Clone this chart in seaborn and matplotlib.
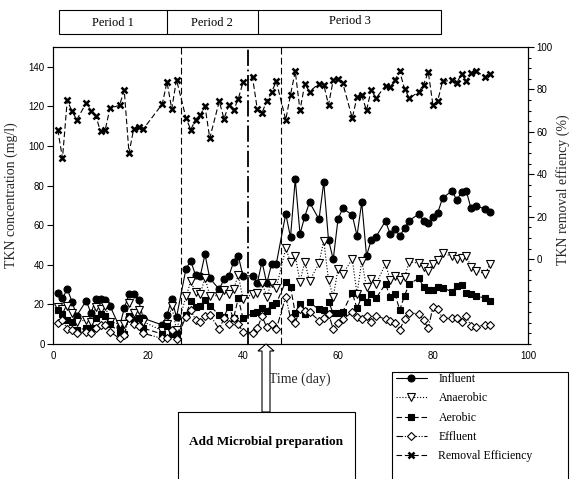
import matplotlib
matplotlib.use("Agg")
import matplotlib.pyplot as plt
import matplotlib.transforms as mtransforms
from matplotlib.patches import Rectangle, Polygon
from matplotlib.lines import Line2D
from matplotlib.ticker import MultipleLocator
import pandas as pd
import seaborn as sns

# sampling days
days = [1, 2, 3, 4, 5, 7, 8, 9, 10, 11, 12, 14, 15, 16, 17, 18, 19, 23, 24, 25, 26,
        28, 29, 30, 31, 32, 33, 35, 36, 37, 38, 39, 40, 42, 43, 44, 45, 46, 47,
        49, 50, 51, 52, 53, 54, 56, 57, 58, 59, 60, 61, 63, 64, 65, 66, 67, 68,
        70, 71, 72, 73, 74, 75, 77, 78, 79, 80, 81, 82, 84, 85, 86, 87, 88, 89, 91, 92]

influent = [25.6, 23, 27.8, 21.4, 14.3, 21.9, 15.5, 22.7, 22.7, 22.2, 19.2, 8.7, 18, 25.3, 25.1, 22.2, 13, 9.6, 14.6, 22.7, 13.5,
            38, 42, 34.8, 34.3, 45.3, 33.2, 27.6, 32.7, 34.3, 41.2, 44.6, 34.3, 34.5, 30.6, 41.6, 30.6, 40.2, 40.4,
            65.7, 53.9, 83.3, 55.6, 64.3, 71.6, 63, 81.7, 52.5, 42.8, 63, 68.5, 65.2, 54.7, 71.6, 44.6, 52.5, 54.2,
            62.1, 55.4, 58.1, 54.5, 58.4, 62.3, 65.7, 62.1, 61.3, 64, 66.3, 73.6, 77.4, 72.7, 76.6, 77.4, 68.5, 69.8, 68.2, 66.8]

anaerobic = [18.9, 17.5, 19.2, 15.5, 11.3, 12.1, 11.3, 18.9, 17.5, 19.2, 11.3, 10, 10, 20.5, 15.8, 17.2, 11.3, 6.7, 10, 19, 7,
             24, 31.6, 26.4, 25.2, 33.5, 24.4, 24.4, 27.3, 25.2, 27.6, 34.8, 22.7, 25.2, 25.9, 31, 23.9, 31, 28.4,
             48.3, 41.6, 44.4, 31.5, 41.6, 31.8, 40.8, 52.2, 32.3, 23.9, 37.9, 35.4, 42.9, 25.2, 42.1, 28.6, 32.8, 30.3,
             40.4, 32.3, 34.5, 32.3, 33.7, 41.6, 40.8, 38.7, 37, 40.4, 42.4, 45.8, 44.4, 42.9, 43.3, 44.6, 39, 37, 35.4, 40.4]

aerobic = [17, 15, 12, 11, 7, 8, 8, 13, 15, 14, 10, 6, 5, 14, 12, 13, 8, 5, 9, 5, 5,
           14.6, 21.9, 18.9, 19.4, 22.2, 19.4, 14.6, 13.8, 18.9, 13, 23, 13, 15.5, 16.3, 18, 16.8, 19.8, 20.5,
           31.5, 28.9, 15.5, 20, 15, 21, 17.5, 17.2, 21.4, 15.5, 15.8, 16.3, 25.9, 18, 23.9, 21.4, 25.1, 23.1,
           30.3, 23.9, 25.1, 17.2, 24.4, 30.3, 33.2, 29, 27.3, 27.3, 29, 28.4, 26.4, 29.3, 29.8, 25.9, 25.2, 24.4, 23.1, 21.9]

effluent = [10.4, 12, 7.5, 7, 5.7, 6.2, 5.4, 7.9, 9.6, 9.6, 6.2, 2.8, 4.5, 12.9, 10, 9.3, 5.4, 2.8, 2.8, 7, 2.5,
            13.8, 17, 12.3, 11.3, 14, 14.8, 7.5, 13, 9.9, 13, 10.1, 6.2, 5.7, 7.9, 14, 8.4, 9.9, 7.5,
            23.9, 13, 10.8, 17.5, 16.5, 16.2, 11.8, 13, 15.3, 7.5, 10.4, 12.6, 16, 13.8, 12.5, 14.3, 11.3, 14.3,
            12.5, 11.6, 10.4, 7.1, 12.6, 15.8, 15.2, 12.1, 7.9, 18.9, 17.5, 13, 13, 13, 11, 14.1, 9.1, 8.8, 9.6, 9.6]

removal = [61, 47.6, 74.9, 69.7, 65.7, 73.6, 70, 67.6, 60.2, 61, 71.2, 72.5, 79.6, 50, 61.5, 62.3, 61.3, 73.1, 83.5, 70.8, 84.6,
           66.5, 61, 65.7, 68, 72, 57, 74.4, 66.2, 72.5, 70.1, 75.5, 83.3, 85.8, 70.8, 68.9, 74.7, 78.6, 83.8,
           65.7, 77.5, 88.5, 70.1, 82.5, 79, 82.7, 82.2, 72.8, 84.3, 84.9, 83, 66.5, 76.4, 77.2, 70.1, 79.9, 75.9,
           81.7, 81, 84.6, 88.5, 80.3, 75.9, 78.8, 82.2, 88.2, 72.5, 74.7, 83.8, 84.3, 83, 87.4, 83.8, 87.7, 88.8, 85.8, 87.3]

period_names = ["Period 1", "Period 2", "Period 3"]
period_change_days = [27, 48]
dose_day = 41

df = pd.DataFrame({"day": days, "Influent": influent, "Anaerobic": anaerobic,
                   "Aerobic": aerobic, "Effluent": effluent, "Removal Efficiency": removal})

sns.set_theme(style="white")
plt.rcParams["font.family"] = ["Liberation Serif", "DejaVu Serif"]
plt.rcParams["axes.edgecolor"] = "black"
plt.rcParams["text.color"] = "black"
plt.rcParams["xtick.color"] = "black"
plt.rcParams["ytick.color"] = "black"

fig = plt.figure(figsize=(5.71, 4.79), dpi=100)
# pixel coordinates of the picture, origin at top left
px = mtransforms.Affine2D().scale(1 / 571, -1 / 479).translate(0, 1) + fig.transFigure

ax = fig.add_axes([53 / 571, 1 - 344 / 479, 475 / 571, 297 / 479])
ax2 = ax.twinx()

styles = {
    "Influent": dict(linestyle="-", marker="o", markersize=5, markerfacecolor="black"),
    "Anaerobic": dict(linestyle=":", marker="v", markersize=5.5, markerfacecolor="white"),
    "Aerobic": dict(linestyle=(0, (5, 2.5)), marker="s", markersize=4.5, markerfacecolor="black"),
    "Effluent": dict(linestyle=(0, (6, 1.5, 1, 1.5, 1, 1.5)), marker="D", markersize=4.3, markerfacecolor="white"),
}
for name, st in styles.items():
    sns.lineplot(data=df, x="day", y=name, ax=ax, color="black", linewidth=0.8,
                 markeredgecolor="black", markeredgewidth=0.8, label=name, legend=False, **st)

sns.lineplot(data=df, x="day", y="Removal Efficiency", ax=ax2, color="black", linewidth=0.8,
             linestyle=(0, (5, 2.5)), marker="x", markersize=4.5, markeredgewidth=1.8,
             markeredgecolor="black", label="Removal Efficiency", legend=False)

for d in period_change_days:
    ax.axvline(d, color="black", linewidth=0.8, linestyle=(0, (6, 3)))
ax.axvline(dose_day, color="black", linewidth=1.3, linestyle=(0, (9, 2, 1, 2)))

ax.set_xlim(0, 100)
ax.set_ylim(0, 150)
ax.set_xticks(range(0, 101, 20))
ax.set_yticks(range(0, 141, 20))
ax2.set_ylim(-40, 100)
ax2.set_yticks(range(0, 101, 20))
ax2.yaxis.set_minor_locator(MultipleLocator(5))

ax.tick_params(axis="x", direction="in", length=4, width=0.8, labelsize=7, pad=5)
ax.tick_params(axis="y", direction="out", length=4, width=0.8, labelsize=7, pad=2)
ax2.tick_params(axis="y", which="major", direction="out", length=4, width=0.8, labelsize=7, pad=2)
ax2.tick_params(axis="y", which="minor", direction="out", length=2.5, width=0.8)
for lbl in ax.get_xticklabels() + ax.get_yticklabels() + ax2.get_yticklabels():
    lbl.set_fontfamily("Liberation Sans")

for a in (ax, ax2):
    for sp in a.spines.values():
        sp.set_linewidth(0.8)
        sp.set_color("black")

ax.set_xlabel("Time (day)", fontsize=10)
ax.set_ylabel("TKN concentration (mg/l)", fontsize=10)
ax2.set_ylabel("TKN removal effiency (%)", fontsize=10)
ax.xaxis.set_label_coords(0.52, -0.095)
ax.yaxis.set_label_coords(-0.074, 0.5)
ax2.yaxis.set_label_coords(1.06, 0.52)

# period bar on top
fig.add_artist(Rectangle((59, 10), 382, 24, transform=px, fill=False, edgecolor="black", linewidth=0.8))
for xline in (167, 258):
    fig.add_artist(Line2D([xline, xline], [10, 34], transform=px, color="black", linewidth=0.8))
for name, xc, yc in zip(period_names, (113, 212, 350), (23.5, 23.5, 20.5)):
    fig.text(xc, yc, name, transform=px, ha="center", va="center", fontsize=9)

# arrow and note box
fig.add_artist(Polygon([(262, 412), (270, 412), (270, 351), (274, 351), (266, 344), (258, 351), (262, 351)],
                       closed=True, transform=px, facecolor="white", edgecolor="black", linewidth=0.8))
fig.add_artist(Rectangle((178, 412), 177, 80, transform=px, fill=False, edgecolor="black", linewidth=0.8))
fig.text(266, 442, "Add Microbial preparation", transform=px, ha="center", va="center",
         fontsize=9.5, fontweight="bold")

# legend
fig.add_artist(Rectangle((392, 372), 176, 120, transform=px, fill=False, edgecolor="black", linewidth=0.8))
handles = ax.get_lines()[:4] + ax2.get_lines()[:1]
labels = ["Influent", "Anaerobic", "Aerobic", "Effluent", "Removal Efficiency"]
ax2.legend(handles, labels, loc="upper left", bbox_to_anchor=(396 / 571, 1 - 373 / 479),
           bbox_transform=fig.transFigure, frameon=False, fontsize=8.5, handlelength=2.6,
           handletextpad=1.0, labelspacing=0.62, borderaxespad=0, borderpad=0)

fig.savefig("out.png", dpi=100)
